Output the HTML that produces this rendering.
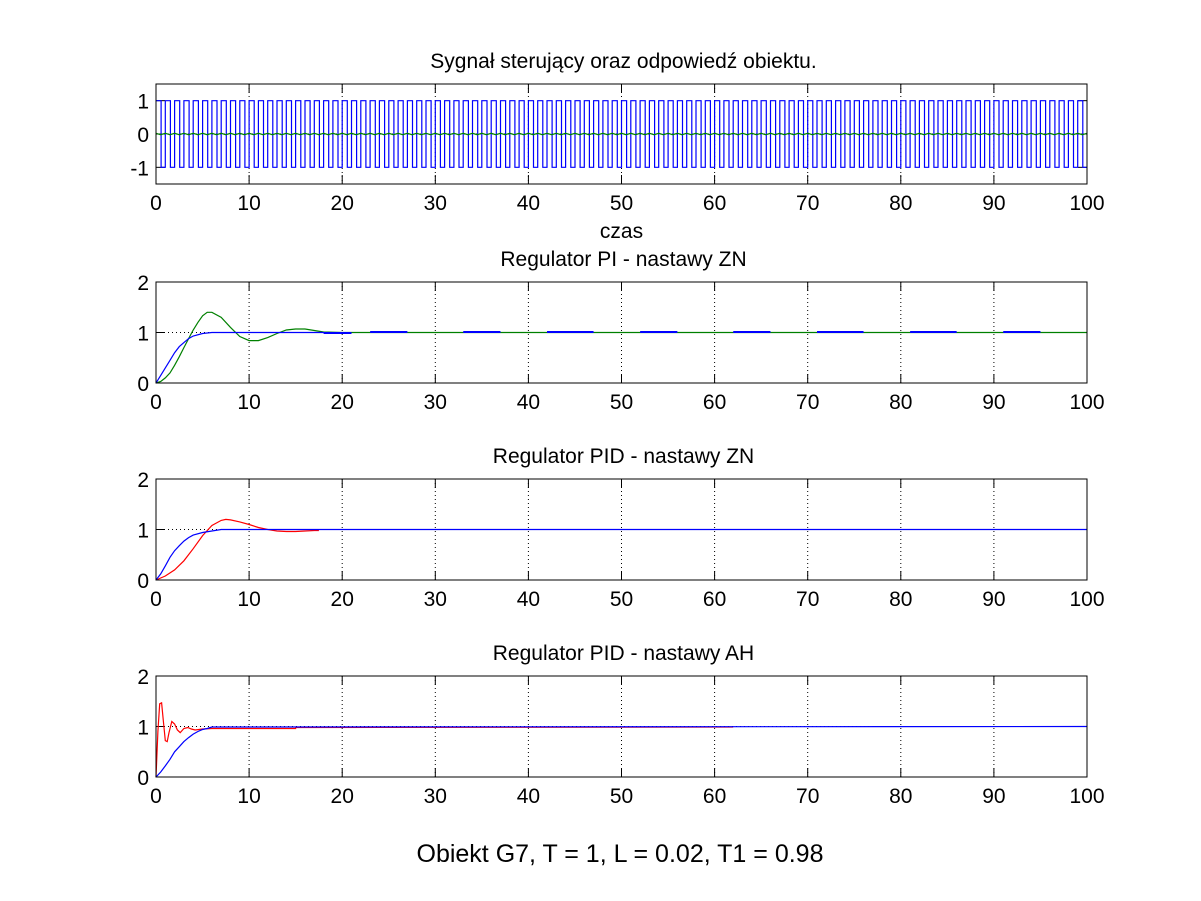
<!DOCTYPE html>
<html><head><meta charset="utf-8">
<style>
html,body{margin:0;padding:0;background:#fff;}
svg{display:block;font-family:"Liberation Sans",sans-serif;}
</style></head>
<body>
<svg id="fig" width="1201" height="901" viewBox="0 0 1201 901">
<rect width="1201" height="901" fill="#fff"/>
<text x="620" y="862" font-size="25" text-anchor="middle">Obiekt G7, T = 1, L = 0.02, T1 = 0.98</text>
</svg>
<script>
// ---- data ----
const xTicks = [0,10,20,30,40,50,60,70,80,90,100];
const sqPeriod = 1.0;          // square wave period (s)
const sqDuty = 0.55;           // fraction high
const sqLevels = [1,-1];
const plot1Ticks = [-1,0,1];
const stepTicks = [0,1,2];

// Plot 2 - PI ZN
const p2Tblue = [0,0.5,1,1.5,2,2.5,3,3.5,4,5,6,8,18];
const p2Yblue = [0,0.15,0.3,0.45,0.6,0.72,0.8,0.88,0.93,0.98,1.0,1.0,1.0];
const p2Tgreen = [0,0.5,1,1.5,2,2.5,3,3.5,4,4.5,5,5.5,6,7,8,9,10,11,12,13,14,15,16,17,18,20,100];
const p2Ygreen = [0,0.03,0.1,0.2,0.35,0.52,0.7,0.88,1.05,1.2,1.33,1.4,1.4,1.3,1.1,0.92,0.84,0.84,0.9,0.98,1.05,1.07,1.07,1.04,1.01,1.0,1.0];
const p2DashStart = [18,23,33,42,52,62,71,81,91];
const p2DashEnd = [21,27,37,47,56,66,76,86,95];
const p2DashY = [0.99,1.01,1.01,1.01,1.01,1.01,1.01,1.01,1.01];

// Plot 3 - PID ZN
const p3Tblue = [0,0.5,1,1.5,2,2.5,3,3.5,4,5,6,7,100];
const p3Yblue = [0,0.12,0.28,0.45,0.58,0.68,0.77,0.84,0.89,0.94,0.97,1.0,1.0];
const p3Tred = [0,1,2,3,4,5,6,7,7.5,8,9,10,11,12,13,14,15,16,17,17.5];
const p3Yred = [0,0.08,0.2,0.38,0.62,0.88,1.08,1.18,1.2,1.19,1.15,1.1,1.04,1.0,0.97,0.96,0.96,0.97,0.98,0.98];

// Plot 4 - PID AH
const p4Tblue = [0,0.5,1,1.5,2,2.5,3,3.5,4,4.5,5,5.5,6,100];
const p4Yblue = [0,0.1,0.22,0.35,0.5,0.6,0.7,0.78,0.85,0.9,0.94,0.96,0.99,1.0];
const p4Tred = [0,0.2,0.4,0.6,0.8,1.0,1.2,1.4,1.7,2.0,2.3,2.6,3.0,3.4,3.8,4.2,5,6,15,15.01,62];
const p4Yred = [0,0.9,1.45,1.47,1.1,0.72,0.7,0.88,1.1,1.05,0.93,0.88,0.96,0.98,0.95,0.93,0.95,0.96,0.96,0.98,0.99];

// ---- rendering ----
const svg = document.getElementById('fig');
const NS = 'http://www.w3.org/2000/svg';
const X0 = 156, X1 = 1087;
function sx(t){ return X0 + (t/100)*(X1-X0); }
function mk(tag, attrs, parent){
  const e = document.createElementNS(NS, tag);
  for (const k in attrs) e.setAttribute(k, attrs[k]);
  (parent||svg).appendChild(e);
  return e;
}
function makeAxes(name, top, bottom, ymin, ymax, yticks, title, gridY, gridOn){
  const g = mk('g', {});
  
  
  const sy = v => bottom - (v - ymin)/(ymax - ymin)*(bottom - top);
  if (gridOn){
    for (const t of xTicks){
      if (t===0||t===100) continue;
      const l = mk('line',{x1:sx(t),x2:sx(t),y1:top,y2:bottom,stroke:'#000','stroke-width':1,'stroke-dasharray':'1,3'},g);
      
      
    }
    for (const v of gridY){
      const l = mk('line',{x1:X0,x2:X1,y1:sy(v),y2:sy(v),stroke:'#000','stroke-width':1,'stroke-dasharray':'1,3'},g);
      
      
    }
  }
  for (const t of xTicks){
    const lab = mk('text',{x:sx(t),y:bottom+26,'font-size':21,'text-anchor':'middle'},g);
    lab.textContent = t;
    
    
    mk('line',{x1:sx(t),x2:sx(t),y1:bottom,y2:bottom-9,stroke:'#000'},g);
    mk('line',{x1:sx(t),x2:sx(t),y1:top,y2:top+9,stroke:'#000'},g);
  }
  for (const v of yticks){
    const lab = mk('text',{x:X0-7,y:sy(v)+8,'font-size':21,'text-anchor':'end'},g);
    lab.textContent = v;
    
    
    mk('line',{x1:X0,x2:X0+9,y1:sy(v),y2:sy(v),stroke:'#000'},g);
    mk('line',{x1:X1,x2:X1-9,y1:sy(v),y2:sy(v),stroke:'#000'},g);
  }
  const tt = mk('text',{x:(X0+X1)/2+2,y:top-16,'font-size':21,'text-anchor':'middle'},g);
  tt.textContent = title;
  
  
  return {g, sy, top, bottom};
}
function frame(ax){
  const r = mk('rect',{x:X0,y:ax.top,width:X1-X0,height:ax.bottom-ax.top,fill:'none',stroke:'#000','stroke-width':1});
  
  
}
function line(ax, ts, ys, color, name){
  const pts = ts.map((t,i)=>sx(t).toFixed(1)+','+ax.sy(ys[i]).toFixed(1)).join(' ');
  const p = mk('polyline',{points:pts,fill:'none',stroke:color,'stroke-width':1.2},ax.g);
  
  
}

// Plot 1
const a1 = makeAxes('control-signal-plot',84,184,-1.5,1.5,plot1Ticks,'Sygnał sterujący oraz odpowiedź obiektu.',[0],true);
{
  const pts = [];
  for (let t=0; t<100; t+=sqPeriod){
    const tHigh = Math.min(t+sqPeriod*sqDuty,100), tEnd = Math.min(t+sqPeriod,100);
    pts.push([t,sqLevels[0]],[tHigh,sqLevels[0]],[tHigh,sqLevels[1]],[tEnd,sqLevels[1]]);
  }
  line(a1, pts.map(p=>p[0]), pts.map(p=>p[1]), '#0000ff','control-signal-square-wave');
  const gt=[], gy=[];
  for (let t=0; t<=100; t+=sqPeriod/2){ gt.push(t); gy.push(((t/sqPeriod*2)%2)<1 ? 0.02 : -0.02); }
  line(a1, gt, gy, '#008000','object-response-line');
}
const cz = mk('text',{x:(X0+X1)/2,y:238,'font-size':21,'text-anchor':'middle'});
cz.textContent='czas';


frame(a1);

// Plot 2
const a2 = makeAxes('pi-zn-plot',282,383,0,2,stepTicks,'Regulator PI - nastawy ZN',[1],true);
line(a2,p2Tgreen,p2Ygreen,'#008000','pi-zn-response');
line(a2,p2Tblue,p2Yblue,'#0000ff','pi-zn-reference');
p2DashStart.forEach((s,i)=>{
  const l = mk('line',{x1:sx(s),x2:sx(p2DashEnd[i]),y1:a2.sy(p2DashY[i]),y2:a2.sy(p2DashY[i]),stroke:'#0000ff','stroke-width':2},a2.g);
  
  
});
frame(a2);

// Plot 3
const a3 = makeAxes('pid-zn-plot',479,580,0,2,stepTicks,'Regulator PID - nastawy ZN',[1],true);
line(a3,p3Tred,p3Yred,'#ff0000','pid-zn-response');
line(a3,p3Tblue,p3Yblue,'#0000ff','pid-zn-reference');
frame(a3);

// Plot 4
const a4 = makeAxes('pid-ah-plot',676,777,0,2,stepTicks,'Regulator PID - nastawy AH',[1],true);
line(a4,p4Tred,p4Yred,'#ff0000','pid-ah-response');
line(a4,p4Tblue,p4Yblue,'#0000ff','pid-ah-reference');
frame(a4);
</script>
</body></html>
